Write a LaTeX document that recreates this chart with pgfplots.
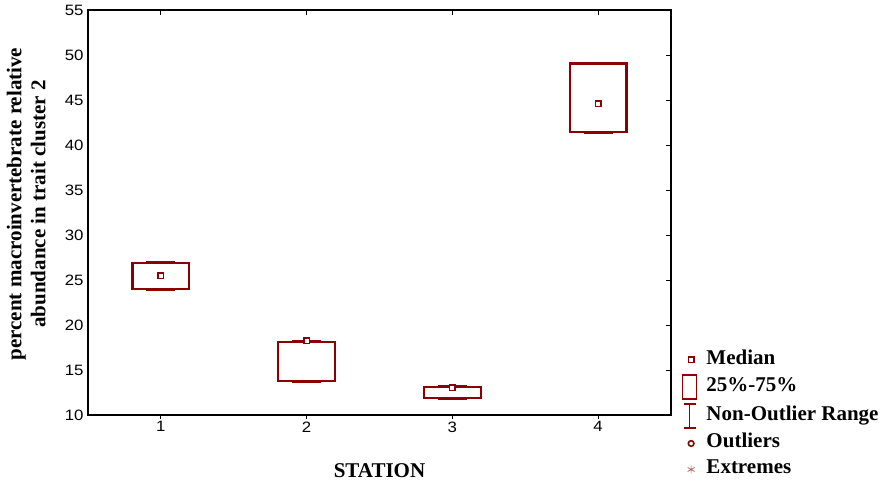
\documentclass[border=0pt]{standalone}
\usepackage{pgfplots}
\pgfplotsset{compat=1.18}
\usepackage{fontspec}
\setmainfont{Liberation Serif}
\newfontfamily\ticksf[FakeStretch=1.12]{Liberation Sans}
\definecolor{boxred}{RGB}{139,0,0}
\definecolor{extred}{RGB}{175,90,80}
\begin{document}
\begin{tikzpicture}
\begin{axis}[
  scale only axis, width=583pt, height=405pt,
  xmin=0.5, xmax=4.5, ymin=10, ymax=55,
  xtick={1,2,3,4}, ytick={10,15,...,55},
  xtick pos=top, ytick pos=right,
  xticklabel pos=bottom, yticklabel pos=left,
  tick align=inside, major tick length=5pt,
  tick style={black, line width=0.9pt},
  axis line style={black, line width=1.3pt},
  /pgf/number format/assume math mode=true,
  ticklabel style={font=\ticksf\fontsize{15}{15}\selectfont},
  xticklabel style={yshift=-3pt},
  yticklabel style={xshift=-1pt},
  xlabel={STATION},
  xlabel style={at={(axis description cs:0.5,-0.138)}, anchor=center, font=\bfseries\fontsize{21}{23}\selectfont},
  ylabel={percent macroinvertebrate relative\\abundance in trait cluster 2},
  ylabel style={at={(axis description cs:-0.106,0.521)}, anchor=center, align=center, font=\bfseries\fontsize{21}{24}\selectfont},
  legend style={at={(axis description cs:1.018,0.165)}, anchor=north west, draw=none, fill=none,
    inner sep=0pt, font=\bfseries\fontsize{21}{23}\selectfont,
    nodes={inner sep=2pt, text height=14pt, text depth=5pt}, row sep=3pt,
    /tikz/every odd column/.append style={column sep=7pt}},
  legend cell align=left,
]
% legend entries
\addlegendimage{only marks, mark=square*, mark size=2.8pt, mark options={fill=white, draw=boxred, line width=1.6pt}}
\addlegendentry{Median}
\addlegendimage{legend image code/.code={\draw[boxred, line width=1.8pt] (0pt,-12pt) rectangle (14pt,12pt);}}
\addlegendentry{25\%-75\%}
\addlegendimage{legend image code/.code={\draw[boxred, line width=1.8pt] (7pt,-12pt) -- (7pt,12pt) (1pt,12pt) -- (13pt,12pt) (1pt,-12pt) -- (13pt,-12pt);}}
\addlegendentry{Non-Outlier Range}
\addlegendimage{only marks, mark=o, mark size=2.8pt, mark options={draw=boxred, line width=1.6pt}}
\addlegendentry{Outliers}
\addlegendimage{only marks, mark=asterisk, mark size=4pt, mark options={draw=extred, line width=0.7pt}}
\addlegendentry{Extremes}
% boxes (25%-75%)
\addplot[boxred, line width=2.2pt, forget plot] coordinates {(0.805,23.96) (1.195,23.96) (1.195,26.86) (0.805,26.86)} -- cycle;
\addplot[boxred, line width=2.2pt, forget plot] coordinates {(1.805,13.78) (2.195,13.78) (2.195,18.10) (1.805,18.10)} -- cycle;
\addplot[boxred, line width=2.2pt, forget plot] coordinates {(2.805,11.93) (3.195,11.93) (3.195,13.10) (2.805,13.10)} -- cycle;
\addplot[boxred, line width=2.2pt, forget plot] coordinates {(3.805,41.44) (4.195,41.44) (4.195,49.05) (3.805,49.05)} -- cycle;
% whisker caps (non-outlier range)
\addplot[boxred, line width=2.8pt, forget plot] coordinates {(0.9,26.92) (1.1,26.92)};
\addplot[boxred, line width=2.8pt, forget plot] coordinates {(0.9,23.90) (1.1,23.90)};
\addplot[boxred, line width=2.8pt, forget plot] coordinates {(1.9,18.18) (2.1,18.18)};
\addplot[boxred, line width=2.8pt, forget plot] coordinates {(1.9,13.72) (2.1,13.72)};
\addplot[boxred, line width=2.8pt, forget plot] coordinates {(2.9,13.17) (3.1,13.17)};
\addplot[boxred, line width=2.8pt, forget plot] coordinates {(2.9,11.87) (3.1,11.87)};
\addplot[boxred, line width=2.8pt, forget plot] coordinates {(3.9,49.10) (4.1,49.10)};
\addplot[boxred, line width=2.8pt, forget plot] coordinates {(3.9,41.38) (4.1,41.38)};
% medians
\addplot[only marks, mark=square*, mark size=2.8pt, mark options={fill=white, draw=boxred, line width=1.6pt}, forget plot]
  coordinates {(1,25.5) (2,18.25) (3,13.05) (4,44.6)};
\end{axis}
\begin{axis}[
  scale only axis, width=583pt, height=405pt,
  xmin=0.5, xmax=4.5, ymin=10, ymax=55,
  axis x line*=bottom, axis y line=none,
  xtick={1,2,3,4}, xticklabels={}, tick align=outside, major tick length=4pt,
  tick style={black, line width=0.9pt},
  axis line style={black, line width=1.3pt},
]
\end{axis}
\useasboundingbox ([shift={(-88pt,-70pt)}]current axis.south west) rectangle ([shift={(215pt,10pt)}]current axis.north east);
\end{tikzpicture}
\end{document}
